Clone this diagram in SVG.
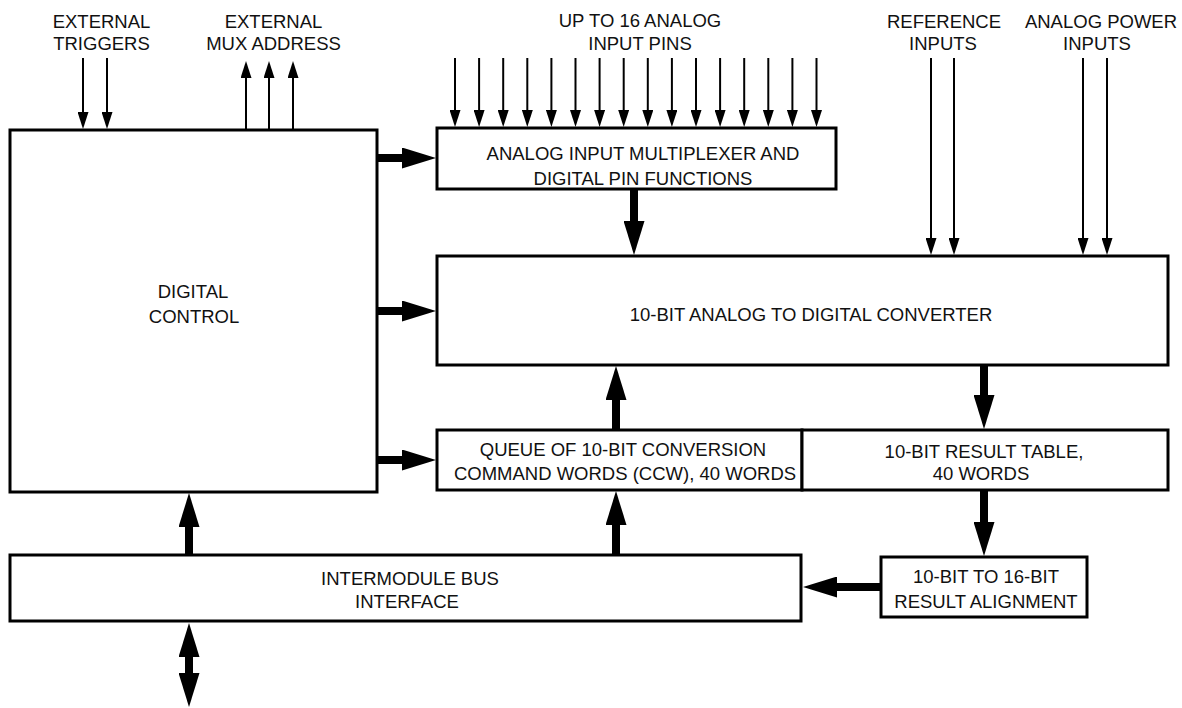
<svg xmlns="http://www.w3.org/2000/svg" width="1182" height="708" viewBox="0 0 1182 708">
<style>
.box{fill:#fff;stroke:#000;stroke-width:3}
.t{font-family:"Liberation Sans",Arial,sans-serif;font-size:18.5px;fill:#111;text-anchor:middle}
.thin{stroke:#000;stroke-width:2;fill:none;marker-end:url(#ah)}
.thick{stroke:#000;stroke-width:8;fill:none;marker-end:url(#AH)}
</style>
<defs>
<marker id="ah" viewBox="0 0 17 11" refX="1" refY="5.5" markerWidth="17" markerHeight="11" markerUnits="userSpaceOnUse" orient="auto"><path d="M0,0 L17,5.5 L0,11 z" fill="#000"/></marker>
<marker id="AH" viewBox="0 0 34 21" refX="1" refY="10.5" markerWidth="34" markerHeight="21" markerUnits="userSpaceOnUse" orient="auto-start-reverse"><path d="M0,0 L34,10.5 L0,21 z" fill="#000"/></marker>
</defs>
<rect width="1182" height="708" fill="#fff"/>

<g id="connectors">
<!-- external triggers -->
<line class="thin" x1="83" y1="58" x2="83" y2="113"/>
<line class="thin" x1="107" y1="58" x2="107" y2="113"/>
<!-- mux address -->
<line class="thin" x1="246" y1="130" x2="246" y2="77"/>
<line class="thin" x1="269" y1="130" x2="269" y2="77"/>
<line class="thin" x1="293" y1="130" x2="293" y2="77"/>
<!-- analog input pins -->
<line class="thin" x1="455" y1="58" x2="455" y2="111"/>
<line class="thin" x1="479.1" y1="58" x2="479.1" y2="111"/>
<line class="thin" x1="503.2" y1="58" x2="503.2" y2="111"/>
<line class="thin" x1="527.3" y1="58" x2="527.3" y2="111"/>
<line class="thin" x1="551.4" y1="58" x2="551.4" y2="111"/>
<line class="thin" x1="575.5" y1="58" x2="575.5" y2="111"/>
<line class="thin" x1="599.6" y1="58" x2="599.6" y2="111"/>
<line class="thin" x1="623.7" y1="58" x2="623.7" y2="111"/>
<line class="thin" x1="647.8" y1="58" x2="647.8" y2="111"/>
<line class="thin" x1="671.9" y1="58" x2="671.9" y2="111"/>
<line class="thin" x1="696" y1="58" x2="696" y2="111"/>
<line class="thin" x1="720.1" y1="58" x2="720.1" y2="111"/>
<line class="thin" x1="744.2" y1="58" x2="744.2" y2="111"/>
<line class="thin" x1="768.3" y1="58" x2="768.3" y2="111"/>
<line class="thin" x1="792.4" y1="58" x2="792.4" y2="111"/>
<line class="thin" x1="816.5" y1="58" x2="816.5" y2="111"/>
<!-- reference and power inputs -->
<line class="thin" x1="931" y1="58" x2="931" y2="239"/>
<line class="thin" x1="954" y1="58" x2="954" y2="239"/>
<line class="thin" x1="1083" y1="58" x2="1083" y2="239"/>
<line class="thin" x1="1107" y1="58" x2="1107" y2="239"/>
<!-- thick buses -->
<line class="thick" x1="377" y1="158" x2="403" y2="158"/>
<line class="thick" x1="377" y1="311" x2="403" y2="311"/>
<line class="thick" x1="377" y1="460" x2="403" y2="460"/>
<line class="thick" x1="634" y1="189" x2="634" y2="222"/>
<line class="thick" x1="616" y1="430" x2="616" y2="399"/>
<line class="thick" x1="984" y1="365" x2="984" y2="396"/>
<line class="thick" x1="984" y1="490" x2="984" y2="523"/>
<line class="thick" x1="881" y1="587" x2="836" y2="587"/>
<line class="thick" x1="189" y1="555" x2="189" y2="526"/>
<line class="thick" x1="616" y1="555" x2="616" y2="524"/>
<line class="thick" x1="189" y1="656" x2="189" y2="674" style="marker-start:url(#AH)"/>
</g>

<g id="digital-control">
<rect class="box" x="10" y="130" width="367" height="362"/>
<text class="t" x="193" y="298">DIGITAL</text>
<text class="t" x="194" y="323">CONTROL</text>
</g>
<g id="mux">
<rect class="box" x="437" y="128" width="399" height="61"/>
<text class="t" x="643" y="160">ANALOG INPUT MULTIPLEXER AND</text>
<text class="t" x="643" y="185">DIGITAL PIN FUNCTIONS</text>
</g>
<g id="adc">
<rect class="box" x="437" y="256" width="731" height="109"/>
<text class="t" x="811" y="321">10-BIT ANALOG TO DIGITAL CONVERTER</text>
</g>
<g id="queue">
<rect class="box" x="437" y="430" width="365" height="60"/>
<text class="t" x="623" y="456">QUEUE OF 10-BIT CONVERSION</text>
<text class="t" x="625" y="480">COMMAND WORDS (CCW), 40 WORDS</text>
</g>
<g id="result-table">
<rect class="box" x="802" y="430" width="366" height="60"/>
<text class="t" x="984" y="458">10-BIT RESULT TABLE,</text>
<text class="t" x="981" y="480">40 WORDS</text>
</g>
<g id="alignment">
<rect class="box" x="881" y="557" width="206" height="60"/>
<text class="t" x="986" y="583">10-BIT TO 16-BIT</text>
<text class="t" x="986" y="608">RESULT ALIGNMENT</text>
</g>
<g id="bus-interface">
<rect class="box" x="10" y="555" width="791" height="66"/>
<text class="t" x="410" y="585">INTERMODULE BUS</text>
<text class="t" x="407" y="608">INTERFACE</text>
</g>
<g id="labels">
<text class="t" x="101.5" y="28">EXTERNAL</text>
<text class="t" x="101.5" y="50">TRIGGERS</text>
<text class="t" x="273.5" y="28">EXTERNAL</text>
<text class="t" x="273.5" y="50">MUX ADDRESS</text>
<text class="t" x="640" y="27">UP TO 16 ANALOG</text>
<text class="t" x="640" y="50">INPUT PINS</text>
<text class="t" x="944" y="28">REFERENCE</text>
<text class="t" x="943" y="50">INPUTS</text>
<text class="t" x="1101" y="28">ANALOG POWER</text>
<text class="t" x="1097" y="50">INPUTS</text>
</g>
</svg>
